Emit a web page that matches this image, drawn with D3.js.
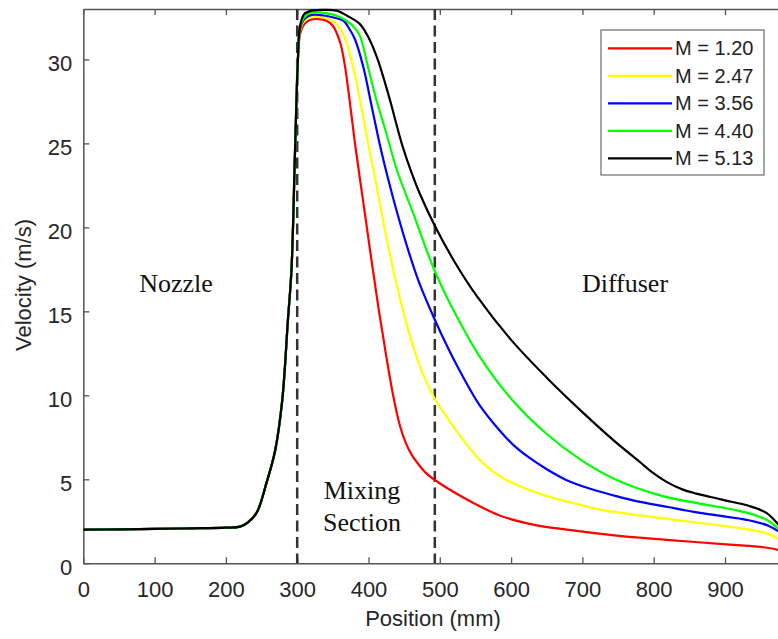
<!DOCTYPE html>
<html>
<head>
<meta charset="utf-8">
<script src="https://cdn.jsdelivr.net/npm/d3@7/dist/d3.min.js"></script>
<style>
  body { margin: 0; background: #fff; }
  svg { display: block; }
</style>
</head>
<body>
<div id="graph-div"></div>
<script>
// shared nozzle part (all runs coincide here)
const nozzleX = [0, 50, 100, 150, 200, 220, 230, 243, 257, 269, 279, 287, 292, 297, 301];
const nozzleV = [2.0, 2.02, 2.05, 2.08, 2.12, 2.18, 2.4, 3.0, 4.8, 6.7, 9.7, 14.5, 17.5, 24.6, 30.0];

const m120X = [304, 310, 318, 330, 341, 350, 356, 361, 367, 374, 381, 392, 403, 414, 425, 435, 444, 452, 460, 470, 480, 493, 538, 584, 631, 678, 748, 818, 911, 950, 975];
const m120V = [31.5, 32.1, 32.35, 32.4, 32.3, 32.0, 31.5, 30.9, 29.6, 27.4, 25.0, 21.7, 18.4, 15.2, 12.3, 9.9, 8.2, 7.2, 6.5, 5.9, 5.4, 4.96, 3.8, 2.85, 2.3, 2.0, 1.65, 1.4, 1.1, 0.98, 0.8];

const m247X = [304, 310, 320, 335, 345, 353, 362, 370, 378, 386, 393, 399, 408, 416, 428, 440, 453, 465, 477, 493, 510, 530, 556, 575, 594, 620, 650, 690, 725, 800, 865, 935, 960, 975];
const m247V = [31.7, 32.3, 32.55, 32.5, 32.4, 32.2, 31.7, 30.9, 29.6, 28.0, 26.5, 25.1, 23.2, 21.4, 18.8, 16.5, 14.3, 12.6, 11.2, 9.8, 8.7, 7.5, 6.15, 5.45, 4.95, 4.45, 4.0, 3.55, 3.2, 2.75, 2.4, 2.0, 1.75, 1.45];

const m356X = [304, 310, 320, 340, 355, 365, 372, 381, 393, 404, 410, 416, 428, 440, 456, 472, 493, 510, 530, 556, 580, 603, 625, 650, 678, 710, 743, 771, 820, 865, 935, 960, 975];
const m356V = [31.8, 32.4, 32.65, 32.6, 32.45, 32.3, 31.9, 31.2, 29.5, 27.3, 26.1, 24.9, 22.8, 20.9, 18.6, 16.6, 14.5, 12.95, 11.3, 9.4, 8.1, 7.05, 6.3, 5.6, 4.95, 4.45, 4.05, 3.75, 3.35, 3.0, 2.55, 2.25, 1.9];

const m440X = [304, 310, 320, 340, 355, 369, 380, 388, 399, 411, 425, 440, 463, 493, 520, 556, 600, 650, 700, 748, 813, 911, 940, 960, 975];
const m440V = [31.9, 32.5, 32.8, 32.75, 32.6, 32.3, 31.9, 31.4, 29.6, 27.6, 25.6, 23.4, 20.8, 17.4, 15.0, 12.3, 9.8, 7.7, 6.1, 4.96, 4.0, 3.2, 2.9, 2.55, 2.05];

const m513X = [304, 310, 320, 340, 355, 370, 388, 400, 412, 430, 440, 448, 460, 472, 493, 520, 552, 600, 650, 700, 743, 780, 800, 818, 840, 860, 880, 900, 935, 958, 975];
const m513V = [32.0, 32.7, 32.9, 32.95, 32.9, 32.6, 32.1, 31.3, 30.1, 27.6, 26.0, 24.8, 23.3, 22.0, 20.1, 18.0, 15.9, 13.3, 11.05, 9.0, 7.35, 6.05, 5.35, 4.85, 4.4, 4.15, 3.95, 3.75, 3.4, 3.0, 2.3];

const seriesNames = ['M = 1.20', 'M = 2.47', 'M = 3.56', 'M = 4.40', 'M = 5.13'];
const seriesX = [m120X, m247X, m356X, m440X, m513X];
const seriesV = [m120V, m247V, m356V, m440V, m513V];
const colors = ['#ff0000', '#ffff00', '#0000ff', '#00ff00', '#000000'];

const xTicks = [0, 100, 200, 300, 400, 500, 600, 700, 800, 900];
const yTicks = [0, 5, 10, 15, 20, 25, 30];
const sectionLines = [300, 493];

const w = 778;
const h = 639;

const svg = d3.select('#graph-div')
              .append('svg')
              .attr('width', w)
              .attr('height', h);

const xScale = d3.scaleLinear()
                 .domain([0, 1000])
                 .range([83.3, 796.3]);

const yScale = d3.scaleLinear()
                 .domain([0, 33])
                 .range([563.3, 9]);

// axes (MATLAB style box, ticks inward)
const axisColor = '#555';
const textColor = '#262626';

const xAxis = d3.axisBottom(xScale).tickValues(xTicks).tickSizeInner(-6).tickSizeOuter(0).tickPadding(18);
const xAxisTop = d3.axisTop(xScale).tickValues(xTicks).tickSizeInner(-6).tickSizeOuter(0).tickFormat('');
const yAxis = d3.axisLeft(yScale).tickValues(yTicks).tickSizeInner(-6).tickSizeOuter(0).tickPadding(11);

svg.append('g')
   .attr('id', 'x-axis')
   .attr('transform', 'translate(0,' + yScale(0) + ')')
   .call(xAxis);

svg.append('g')
   .attr('id', 'x-axis-top')
   .attr('transform', 'translate(0,' + yScale(33) + ')')
   .call(xAxisTop);

svg.append('g')
   .attr('id', 'y-axis')
   .attr('transform', 'translate(' + xScale(0) + ',0)')
   .call(yAxis);

svg.selectAll('.domain')
   .attr('stroke', axisColor)
   .attr('stroke-width', 1.5);
svg.selectAll('.tick line')
   .attr('stroke', axisColor)
   .attr('stroke-width', 1.3);
svg.selectAll('.tick text')
   .attr('fill', textColor)
   .style('font-family', '"Liberation Sans", Arial, sans-serif')
   .style('font-size', '22px');
svg.selectAll('#y-axis .tick text').attr('dy', '0.5em');

// dashed section boundaries
svg.selectAll('.section-line')
   .data(sectionLines)
   .enter()
   .append('line')
   .attr('class', 'section-line')
   .attr('x1', d => xScale(d))
   .attr('x2', d => xScale(d))
   .attr('y1', yScale(33))
   .attr('y2', yScale(0))
   .attr('stroke', '#333')
   .attr('stroke-width', 2.5)
   .attr('stroke-dasharray', '11,5.5');

// velocity curves
const line = d3.line()
               .x(d => xScale(d[0]))
               .y(d => yScale(d[1]))
               .curve(d3.curveCatmullRom.alpha(0.5));

seriesNames.forEach((name, i) => {
    const pts = nozzleX.map((x, j) => [x, nozzleV[j]])
                       .concat(seriesX[i].map((x, j) => [x, seriesV[i][j]]));
    svg.append('path')
       .datum(pts)
       .attr('fill', 'none')
       .attr('stroke', colors[i])
       .attr('stroke-width', 2.2)
       .attr('stroke-linejoin', 'round')
       .attr('d', line);
});

// region labels
const serif = '"Liberation Serif", "Times New Roman", serif';
const regionText = [
    {text: 'Nozzle', x: 176, y: 292},
    {text: 'Diffuser', x: 625, y: 292},
    {text: 'Mixing', x: 362, y: 499},
    {text: 'Section', x: 362, y: 531}
];
svg.selectAll('.region')
   .data(regionText)
   .enter()
   .append('text')
   .attr('class', 'region')
   .attr('x', d => d.x)
   .attr('y', d => d.y)
   .attr('text-anchor', 'middle')
   .style('font-family', serif)
   .style('font-size', '26px')
   .attr('fill', '#111')
   .text(d => d.text);

// axis titles
svg.append('text')
   .attr('x', 433)
   .attr('y', 626)
   .attr('text-anchor', 'middle')
   .attr('fill', textColor)
   .style('font-family', '"Liberation Sans", Arial, sans-serif')
   .style('font-size', '22px')
   .text('Position (mm)');

svg.append('text')
   .attr('transform', 'translate(31,285) rotate(-90)')
   .attr('text-anchor', 'middle')
   .attr('fill', textColor)
   .style('font-family', '"Liberation Sans", Arial, sans-serif')
   .style('font-size', '22px')
   .text('Velocity (m/s)');

// legend
const legend = svg.append('g').attr('id', 'legend');
legend.append('rect')
      .attr('x', 601)
      .attr('y', 30)
      .attr('width', 163)
      .attr('height', 145)
      .attr('fill', '#fff')
      .attr('stroke', '#777')
      .attr('stroke-width', 1.3);

const legendItems = legend.selectAll('.legendItem')
      .data(seriesNames)
      .enter()
      .append('g')
      .attr('class', 'legendItem')
      .attr('transform', (d, i) => `translate(0, ${48.3 + i * 27.5})`);

legendItems.append('line')
      .attr('x1', 608)
      .attr('x2', 672)
      .attr('stroke', (d, i) => colors[i])
      .attr('stroke-width', 2.2);

legendItems.append('text')
      .attr('x', 675)
      .attr('y', 7)
      .attr('fill', '#222')
      .style('font-family', '"Liberation Sans", Arial, sans-serif')
      .style('font-size', '20px')
      .text(d => d);
</script>
</body>
</html>
